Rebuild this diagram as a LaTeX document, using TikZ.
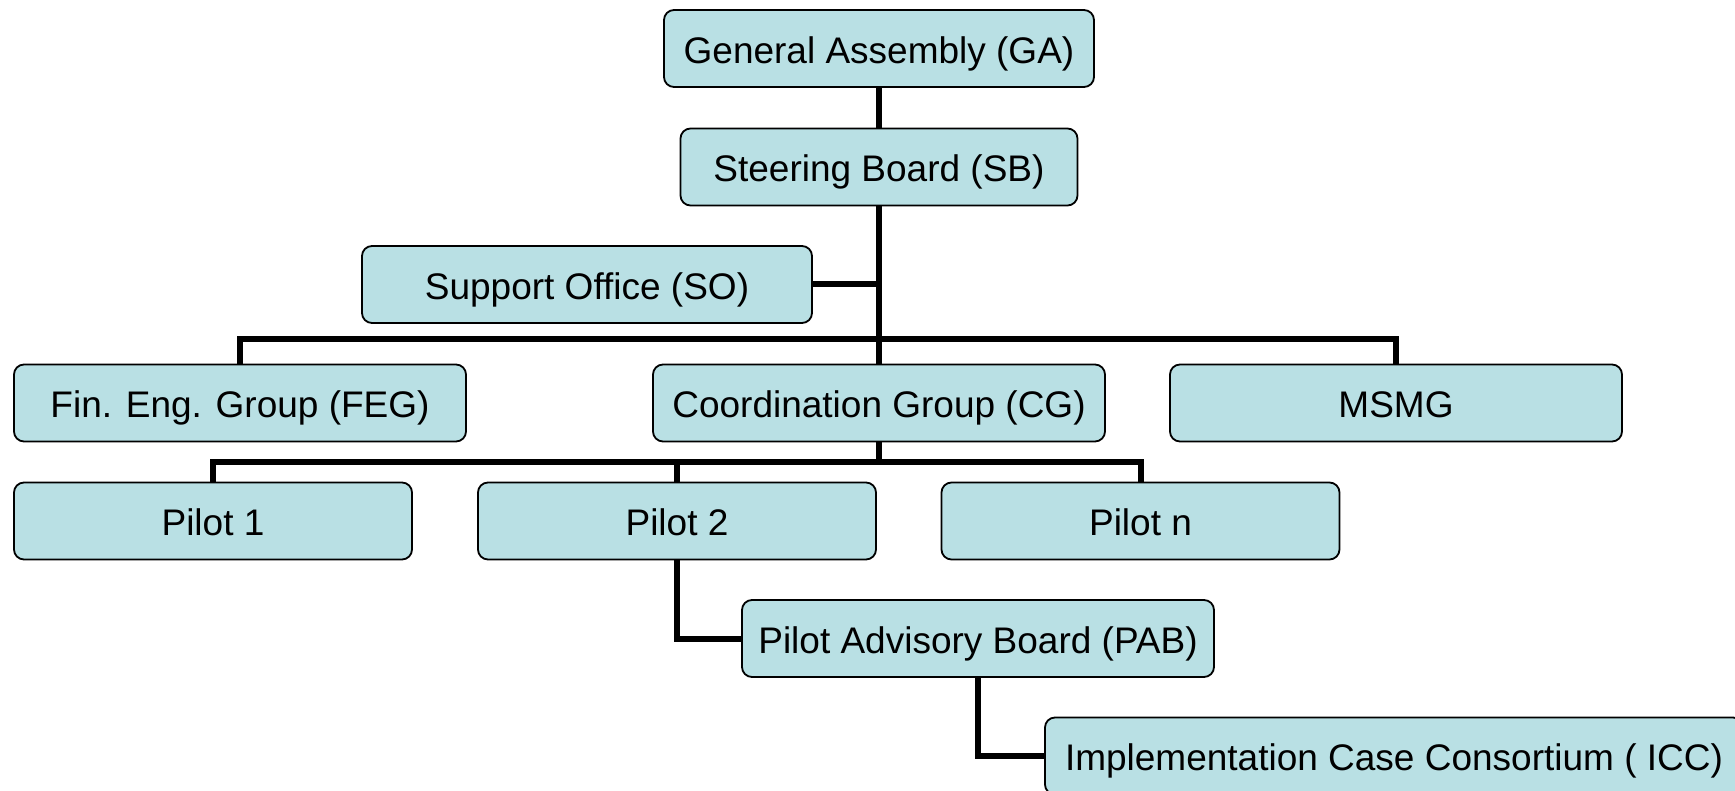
\documentclass[tikz,border=0pt]{standalone}
\usepackage{fontspec}
\setmainfont{Liberation Sans}
\definecolor{boxfill}{RGB}{185,224,228}
\begin{document}
\begin{tikzpicture}[x=0.5pt,y=-0.5pt,
  orgbox/.style={draw=black,line width=0.9pt,fill=boxfill,rounded corners=5pt,
    minimum height=38.5pt,inner sep=0pt,text height=16.25pt,text depth=1.5pt,
    font=\fontsize{18.5}{22}\selectfont},
  link/.style={draw=black,line width=3pt,line join=miter}]
\useasboundingbox (0,0) rectangle (1735,791);
\clip (0,0) rectangle (1735,791);
\node[orgbox,minimum width=215pt] (ga) at (879,48.5) {General Assembly (GA)};
\node[orgbox,minimum width=198.5pt] (sb) at (879,167) {Steering Board (SB)};
\node[orgbox,minimum width=225pt] (so) at (587,284.5) {Support Office (SO)};
\node[orgbox,minimum width=226pt] (feg) at (240,403) {Fin. Eng. Group (FEG)};
\node[orgbox,minimum width=226pt] (cg) at (879,403) {Coordination Group (CG)};
\node[orgbox,minimum width=226pt] (msmg) at (1396,403) {MSMG};
\node[orgbox,minimum width=199pt] (p1) at (213,521) {Pilot 1};
\node[orgbox,minimum width=199pt] (p2) at (677,521) {Pilot 2};
\node[orgbox,minimum width=199pt] (pn) at (1140.5,521) {Pilot n};
\node[orgbox,minimum width=236pt] (pab) at (978,638.5) {Pilot Advisory Board (PAB)};
\node[orgbox,minimum width=349pt] (icc) at (1394,756) {Implementation Case Consortium ( ICC)};
\coordinate (busa) at (0,339);
\coordinate (busb) at (0,462);
\draw[link] (ga.south) -- (ga.south |- sb.north);
\draw[link] (sb.south) -- (sb.south |- cg.north);
\draw[link] (so.east) -- (so.east -| sb.south);
\draw[link] (feg.north) |- (busa -| msmg.north) -- (msmg.north);
\draw[link] (cg.south) -- (cg.south |- busb);
\draw[link] (p1.north) |- (busb -| pn.north) -- (pn.north);
\draw[link] (p2.north) -- (p2.north |- busb);
\draw[link] (p2.south) |- (pab.west);
\draw[link] (pab.south) |- (icc.west);
\end{tikzpicture}
\end{document}
